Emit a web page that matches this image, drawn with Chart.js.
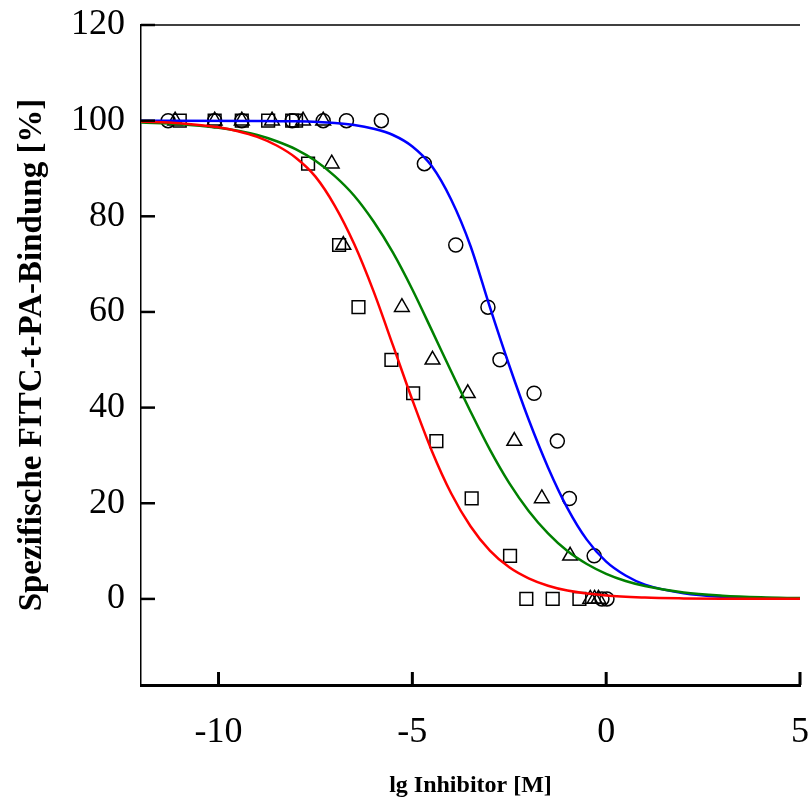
<!DOCTYPE html>
<html>
<head>
<meta charset="utf-8">
<title>FITC-t-PA-Bindung</title>
<script src="https://cdn.jsdelivr.net/npm/chart.js@4.4.0/dist/chart.umd.min.js"></script>
<style>
    html, body { margin: 0; padding: 0; background: #fff; }
    #chart { display: block; }
</style>
</head>
<body>
<canvas id="chart" width="812" height="808"></canvas>
<script>
// Axis ticks
const xTickValues = [-10, -5, 0, 5];
const yTickValues = [0, 20, 40, 60, 80, 100, 120];

// Measured points (circles)
const circleX = [-11.3, -10.1, -9.4, -8.1, -7.3, -6.7, -5.8, -4.69, -3.88, -3.05, -2.74, -1.86, -1.26, -0.95, -0.31, -0.11, 0.02];
const circleY = [100, 100, 100, 100, 100, 100, 100, 91, 74, 61, 50, 43, 33, 21, 9, 0, 0];

// Measured points (triangles)
const triangleX = [-11.12, -10.1, -9.4, -8.62, -7.82, -7.3, -7.08, -6.78, -5.27, -4.48, -3.57, -2.37, -1.66, -0.93, -0.41, -0.3, -0.2];
const triangleY = [100, 100, 100, 100, 100, 100, 91, 74, 61, 50, 43, 33, 21, 9, 0, 0, 0];

// Measured points (squares)
const squareX = [-11.0, -10.1, -9.4, -8.72, -8.1, -8.0, -7.69, -6.89, -6.39, -5.54, -4.98, -4.38, -3.47, -2.48, -2.06, -1.38, -0.69];
const squareY = [100, 100, 100, 100, 100, 100, 91, 74, 61, 50, 43, 33, 21, 9, 0, 0, 0];

// Fitted curves
const blueX = [-12, -9, -8, -7, -6.5, -6, -5.5, -5, -4.5, -4, -3.5, -3, -2.5, -2, -1.5, -1, -0.5, 0, 0.5, 1, 2, 3, 4, 5];
const blueY = [100, 99.95, 99.85, 99.5, 99.1, 98.3, 97.0, 94.6, 90.5, 83.5, 73.8, 61.0, 48.8, 37.5, 27.5, 19.0, 12.4, 7.8, 4.9, 3.0, 1.2, 0.45, 0.18, 0.07];

const greenX = [-12, -11, -10, -9.5, -9, -8.5, -8, -7.5, -7, -6.5, -6, -5.5, -5, -4.5, -4, -3.5, -3, -2.5, -2, -1.5, -1, -0.5, 0, 0.5, 1, 2, 3, 4, 5];
const greenY = [99.6, 99.25, 98.5, 97.9, 97.0, 95.7, 94.0, 91.6, 88.4, 84.3, 78.9, 72.4, 64.7, 56.2, 47.6, 39.2, 31.2, 24.2, 18.4, 13.7, 10.0, 7.3, 5.25, 3.75, 2.7, 1.33, 0.67, 0.33, 0.17];

const redX = [-12, -11, -10, -9.5, -9, -8.5, -8, -7.5, -7, -6.5, -6, -5.5, -5, -4.5, -4, -3.5, -3, -2.5, -2, -1.5, -1, 0, 1, 2, 3, 5];
const redY = [99.8, 99.44, 98.6, 97.8, 96.6, 94.8, 92.2, 88.3, 82.2, 74.2, 64.3, 53.0, 41.6, 31.0, 22.1, 15.2, 10.1, 6.6, 4.3, 2.75, 1.75, 0.71, 0.28, 0.11, 0.04, 0.01];

const SERIF = "'Liberation Serif', 'Times New Roman', serif";

// zip x/y arrays into point objects
function toPoints(xs, ys) {
    return xs.map((x, i) => ({ x: x, y: ys[i] }));
}

function curve(xs, ys, color, order) {
    return {
        type: 'line',
        data: toPoints(xs, ys),
        borderColor: color,
        borderWidth: 2.5,
        pointRadius: 0,
        cubicInterpolationMode: 'monotone',
        fill: false,
        order: order
    };
}

function markers(xs, ys, style, radius) {
    return {
        type: 'scatter',
        data: toPoints(xs, ys),
        pointStyle: style,
        pointRadius: radius,
        pointBorderColor: '#000',
        pointBackgroundColor: 'rgba(0,0,0,0)',
        pointBorderWidth: 1.5,
        showLine: false,
        order: 10
    };
}

// Inward tick marks and the top frame line
const frameTicks = {
    id: 'frameTicks',
    afterDraw(chart) {
        const { ctx, chartArea: a, scales: { x, y } } = chart;
        ctx.save();
        ctx.strokeStyle = '#000';
        ctx.lineWidth = 3;
        xTickValues.forEach(v => {
            const px = x.getPixelForValue(v);
            ctx.beginPath();
            ctx.moveTo(px, a.bottom);
            ctx.lineTo(px, a.bottom - 13);
            ctx.stroke();
        });
        ctx.lineWidth = 2.5;
        yTickValues.forEach(v => {
            const py = y.getPixelForValue(v);
            ctx.beginPath();
            ctx.moveTo(a.left, py);
            ctx.lineTo(a.left + 14, py);
            ctx.stroke();
        });
        ctx.lineWidth = 1.5;
        ctx.beginPath();
        ctx.moveTo(a.left, a.top);
        ctx.lineTo(a.right, a.top);
        ctx.stroke();
        ctx.restore();
    }
};

new Chart(document.getElementById('chart'), {
    type: 'scatter',
    data: {
        datasets: [
            markers(circleX, circleY, 'circle', 7),
            markers(triangleX, triangleY, 'triangle', 8.5),
            markers(squareX, squareY, 'rect', 9),
            curve(blueX, blueY, '#0000ff', 3),
            curve(greenX, greenY, '#008000', 2),
            curve(redX, redY, '#ff0000', 1)
        ]
    },
    options: {
        responsive: false,
        animation: false,
        devicePixelRatio: 1,
        layout: { padding: { left: 0, top: 25, right: 12, bottom: 0 } },
        plugins: {
            legend: { display: false },
            tooltip: { enabled: false }
        },
        scales: {
            x: {
                type: 'linear',
                position: 'bottom',
                min: -12,
                max: 5,
                afterBuildTicks: s => { s.ticks = xTickValues.map(v => ({ value: v })); },
                afterFit: s => {
                    s.height = 123;
                    s.paddingLeft = 0;
                    s.paddingRight = 0;
                },
                grid: { display: false, drawTicks: false },
                border: { display: true, color: '#000', width: 3 },
                ticks: {
                    color: '#000',
                    padding: 26,
                    maxRotation: 0,
                    font: { family: SERIF, size: 36 }
                },
                title: {
                    display: true,
                    text: 'lg Inhibitor [M]',
                    color: '#000',
                    font: { family: SERIF, size: 24, weight: 'bold' },
                    padding: { top: 0, bottom: 8 }
                }
            },
            y: {
                type: 'linear',
                min: -18,
                max: 120,
                afterBuildTicks: s => { s.ticks = yTickValues.map(v => ({ value: v })); },
                afterFit: s => {
                    s.width = 141;
                    s.paddingTop = 0;
                    s.paddingBottom = 0;
                },
                grid: { display: false, drawTicks: false },
                border: { display: true, color: '#000', width: 1.5 },
                ticks: {
                    color: '#000',
                    padding: 16,
                    font: { family: SERIF, size: 36 }
                },
                title: {
                    display: true,
                    text: 'Spezifische FITC-t-PA-Bindung [%]',
                    color: '#000',
                    font: { family: SERIF, size: 33, weight: 'bold' },
                    padding: { top: 13, bottom: 0 }
                }
            }
        }
    },
    plugins: [frameTicks]
});
</script>
</body>
</html>
